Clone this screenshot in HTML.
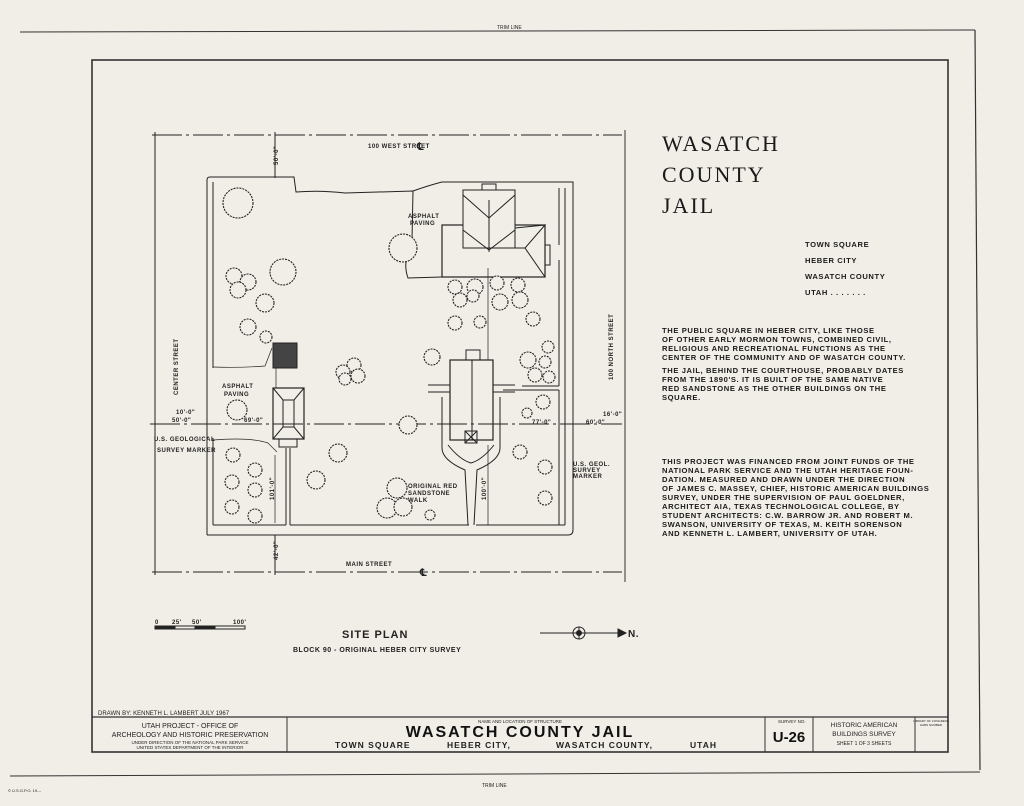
<!DOCTYPE html>
<html><head><meta charset="utf-8"><style>
html,body{margin:0;padding:0;background:#f1eee7;}
svg{display:block;font-family:"Liberation Sans",sans-serif;}
.t{fill:#222;}
.p{font-size:7.6px;fill:#1a1a1a;letter-spacing:0.6px;font-weight:bold;}
</style></head><body>
<svg width="1024" height="806" viewBox="0 0 1024 806">
<rect width="1024" height="806" fill="#f1eee7"/>
<g stroke="#333" fill="none">
<line x1="20" y1="32" x2="975" y2="30" stroke-width="1"/>
<line x1="975" y1="30" x2="980" y2="770" stroke-width="1.2"/>
<line x1="10" y1="776" x2="980" y2="772" stroke-width="1"/>
<rect x="92" y="60" width="856" height="692" stroke-width="1.6"/>
<line x1="92" y1="717" x2="948" y2="717" stroke-width="1.3"/>
<line x1="287" y1="717" x2="287" y2="752"/>
<line x1="765" y1="717" x2="765" y2="752"/>
<line x1="813" y1="717" x2="813" y2="752"/>
<line x1="915" y1="717" x2="915" y2="752"/>
</g>
<text x="497" y="29" class="t" font-size="5">TRIM LINE</text>
<text x="482" y="787" class="t" font-size="5">TRIM LINE</text>
<text x="8" y="792" class="t" font-size="4">© U.S.G.P.O. 19---</text>
<text x="98" y="715" class="t" font-size="6">DRAWN BY: KENNETH L. LAMBERT    JULY 1967</text>
<text x="190" y="728" class="t" font-size="7" text-anchor="middle">UTAH PROJECT  -  OFFICE OF</text>
<text x="190" y="737" class="t" font-size="7" text-anchor="middle">ARCHEOLOGY AND HISTORIC PRESERVATION</text>
<text x="190" y="744" class="t" font-size="4.5" text-anchor="middle">UNDER DIRECTION OF THE NATIONAL PARK SERVICE</text>
<text x="190" y="749" class="t" font-size="4.5" text-anchor="middle">UNITED STATES DEPARTMENT OF THE INTERIOR</text>
<text x="520" y="723" class="t" font-size="4.5" text-anchor="middle">NAME AND LOCATION OF STRUCTURE</text>
<text x="520" y="737" font-size="16" fill="#111" text-anchor="middle" letter-spacing="2" font-weight="bold">WASATCH  COUNTY  JAIL</text>
<text x="335" y="748" class="t" font-size="8.5" letter-spacing="1" font-weight="bold">TOWN SQUARE</text>
<text x="447" y="748" class="t" font-size="8.5" letter-spacing="1" font-weight="bold">HEBER CITY,</text>
<text x="556" y="748" class="t" font-size="8.5" letter-spacing="1" font-weight="bold">WASATCH  COUNTY,</text>
<text x="690" y="748" class="t" font-size="8.5" letter-spacing="1" font-weight="bold">UTAH</text>
<text x="778" y="723" class="t" font-size="4.5">SURVEY NO.</text>
<text x="789" y="742" font-size="15" fill="#111" text-anchor="middle" font-weight="bold">U-26</text>
<text x="864" y="727" class="t" font-size="6.5" text-anchor="middle">HISTORIC AMERICAN</text>
<text x="864" y="736" class="t" font-size="6.5" text-anchor="middle">BUILDINGS SURVEY</text>
<text x="864" y="745" class="t" font-size="5" text-anchor="middle">SHEET 1 OF 3 SHEETS</text>
<text x="931" y="722" class="t" font-size="3" text-anchor="middle">LIBRARY OF CONGRESS</text>
<text x="931" y="726" class="t" font-size="3" text-anchor="middle">HABS NUMBER</text>
<line x1="625" y1="130" x2="625" y2="582" stroke="#333" stroke-width="1"/>
<g font-family="Liberation Serif,serif" font-size="22" fill="#1a1a1a" letter-spacing="2">
<text x="662" y="151">WASATCH</text><text x="662" y="182">COUNTY</text><text x="662" y="213">JAIL</text></g>
<g class="p"><text x="805" y="247">TOWN SQUARE</text><text x="805" y="263">HEBER CITY</text><text x="805" y="279">WASATCH COUNTY</text><text x="805" y="295">UTAH . . . . . . .</text>
<text x="662" y="333">THE PUBLIC SQUARE IN HEBER CITY, LIKE THOSE</text>
<text x="662" y="342">OF OTHER EARLY MORMON TOWNS, COMBINED CIVIL,</text>
<text x="662" y="351">RELIGIOUS AND RECREATIONAL FUNCTIONS AS THE</text>
<text x="662" y="360">CENTER OF THE COMMUNITY AND OF WASATCH COUNTY.</text>
<text x="662" y="373">THE JAIL, BEHIND THE COURTHOUSE, PROBABLY DATES</text>
<text x="662" y="382">FROM THE 1890'S.  IT IS BUILT OF THE SAME NATIVE</text>
<text x="662" y="391">RED SANDSTONE AS THE OTHER BUILDINGS ON THE</text>
<text x="662" y="400">SQUARE.</text>
<text x="662" y="464">THIS PROJECT WAS FINANCED FROM JOINT FUNDS OF THE</text>
<text x="662" y="473">NATIONAL PARK SERVICE AND THE UTAH HERITAGE FOUN-</text>
<text x="662" y="482">DATION. MEASURED AND DRAWN UNDER THE DIRECTION</text>
<text x="662" y="491">OF JAMES C. MASSEY, CHIEF, HISTORIC AMERICAN BUILDINGS</text>
<text x="662" y="500">SURVEY, UNDER THE SUPERVISION OF PAUL GOELDNER,</text>
<text x="662" y="509">ARCHITECT AIA, TEXAS TECHNOLOGICAL COLLEGE, BY</text>
<text x="662" y="518">STUDENT ARCHITECTS: C.W. BARROW JR. AND ROBERT M.</text>
<text x="662" y="527">SWANSON, UNIVERSITY OF TEXAS, M. KEITH SORENSON</text>
<text x="662" y="536">AND KENNETH L. LAMBERT, UNIVERSITY OF UTAH.</text></g>
<g stroke="#222" fill="none" stroke-width="1">
<line x1="152" y1="135" x2="622" y2="135" stroke-dasharray="30,4,3,4"/>
<line x1="152" y1="572" x2="622" y2="572" stroke-dasharray="30,4,3,4"/>
<line x1="155" y1="132" x2="155" y2="575"/>
<line x1="150" y1="424" x2="622" y2="424" stroke-dasharray="30,4,3,4"/>
<line x1="275" y1="132" x2="275" y2="178"/>
<line x1="275" y1="535" x2="275" y2="575"/>
<path d="M207 535 L207 180 Q207 177 210 177 L294 177 L296 192 Q320 190 345 193 L413 191 L412 240 Q402 262 408 278 L442 277"/>
<path d="M413 191 Q430 185 442 182 L573 182 L573 530 Q573 535 568 535 L207 535"/>
<line x1="213" y1="182" x2="213" y2="368"/>
<line x1="213" y1="438" x2="213" y2="525"/>
<line x1="213" y1="525" x2="286" y2="525"/><line x1="290" y1="525" x2="469" y2="525"/><line x1="476" y1="525" x2="565" y2="525"/>
<line x1="565" y1="188" x2="565" y2="525"/><line x1="559" y1="188" x2="559" y2="245"/>
<line x1="559" y1="390" x2="559" y2="525"/><line x1="503" y1="390" x2="559" y2="390"/>
<line x1="522" y1="386" x2="559" y2="386"/><line x1="559" y1="260" x2="559" y2="386"/>
<path d="M213 367 Q240 368 265 366 L272 348" stroke-width="0.7"/>
<path d="M213 440 Q250 437 268 443 L277 452" stroke-width="0.7"/>
<line x1="286" y1="448" x2="286" y2="525"/><line x1="290" y1="448" x2="290" y2="525"/>
<rect x="442" y="225" width="103" height="52" stroke-width="1.2"/>
<rect x="463" y="190" width="52" height="58" fill="#f1eee7"/>
<path d="M463 195 L489 218 L515 195 M463 230 L489 250 L515 230 M489 200 L489 252 M463 195 L463 230 M515 195 L515 230"/>
<path d="M515 228 L545 225 L525 248 L545 277 M525 248 L509 248"/>
<rect x="482" y="184" width="14" height="6"/>
<rect x="545" y="245" width="5" height="20"/>
<rect x="273" y="388" width="31" height="51" stroke-width="1.2"/>
<path d="M273 388 L283 400 L294 400 L304 388 M273 439 L283 427 L294 427 L304 439 M283 400 L283 427 M294 400 L294 427"/>
<rect x="279" y="439" width="18" height="8"/>
<rect x="273" y="343" width="24" height="25" fill="#444"/>
<rect x="450" y="360" width="43" height="80" stroke-width="1.2"/>
<line x1="472" y1="360" x2="472" y2="440"/>
<rect x="466" y="350" width="14" height="10"/>
<rect x="465" y="431" width="12" height="12"/><path d="M465 431 L477 443 M477 431 L465 443"/>
<path d="M428 385 L450 385 M428 392 L450 392 M493 385 L515 385 M493 392 L515 392"/>
<path d="M442 397 L442 448 Q442 460 465 470 L468 525 M500 397 L500 448 Q500 460 477 470 L474 525 M448 445 Q460 460 471 463 Q482 460 494 445"/>
<line x1="488" y1="268" x2="488" y2="360" stroke-width="0.7"/>
<line x1="488" y1="445" x2="488" y2="525" stroke-width="0.7"/>
<line x1="276" y1="368" x2="276" y2="388" stroke-width="0.7"/>
<line x1="275" y1="455" x2="275" y2="523" stroke-width="0.7"/>
</g>
<g fill="#f1eee7" stroke="#222" stroke-width="1.1" stroke-dasharray="2,1">
<circle cx="238" cy="203" r="15"/><circle cx="283" cy="272" r="13"/><circle cx="403" cy="248" r="14"/>
<circle cx="234" cy="276" r="8"/><circle cx="248" cy="282" r="8"/><circle cx="238" cy="290" r="8"/>
<circle cx="265" cy="303" r="9"/><circle cx="248" cy="327" r="8"/><circle cx="266" cy="337" r="6"/>
<circle cx="354" cy="365" r="7"/><circle cx="343" cy="372" r="7"/><circle cx="358" cy="376" r="7"/><circle cx="345" cy="379" r="6"/>
<circle cx="432" cy="357" r="8"/><circle cx="408" cy="425" r="9"/><circle cx="237" cy="410" r="10"/>
<circle cx="338" cy="453" r="9"/><circle cx="316" cy="480" r="9"/>
<circle cx="233" cy="455" r="7"/><circle cx="255" cy="470" r="7"/><circle cx="232" cy="482" r="7"/><circle cx="255" cy="490" r="7"/><circle cx="232" cy="507" r="7"/><circle cx="255" cy="516" r="7"/>
<circle cx="455" cy="287" r="7"/><circle cx="475" cy="287" r="8"/><circle cx="497" cy="283" r="7"/><circle cx="518" cy="285" r="7"/>
<circle cx="460" cy="300" r="7"/><circle cx="473" cy="296" r="6"/><circle cx="500" cy="302" r="8"/><circle cx="520" cy="300" r="8"/>
<circle cx="455" cy="323" r="7"/><circle cx="480" cy="322" r="6"/><circle cx="533" cy="319" r="7"/>
<circle cx="548" cy="347" r="6"/><circle cx="528" cy="360" r="8"/><circle cx="545" cy="362" r="6"/><circle cx="535" cy="375" r="7"/><circle cx="549" cy="377" r="6"/>
<circle cx="543" cy="402" r="7"/><circle cx="527" cy="413" r="5"/><circle cx="520" cy="452" r="7"/><circle cx="545" cy="467" r="7"/><circle cx="545" cy="498" r="7"/>
<circle cx="397" cy="488" r="10"/><circle cx="387" cy="508" r="10"/><circle cx="403" cy="507" r="9"/><circle cx="430" cy="515" r="5"/>
</g>
<g font-size="6" fill="#222" letter-spacing="0.5" font-weight="bold">
<text x="368" y="148">100 WEST STREET</text><text x="346" y="566">MAIN STREET</text>
<text x="417" y="150" font-size="10">℄</text><text x="420" y="576" font-size="10">℄</text>
<text x="408" y="218">ASPHALT</text><text x="410" y="225">PAVING</text>
<text x="222" y="388">ASPHALT</text><text x="224" y="396">PAVING</text>
<text x="154" y="441">U.S. GEOLOGICAL</text><text x="157" y="452">SURVEY MARKER</text>
<text x="573" y="466">U.S. GEOL.</text><text x="573" y="472">SURVEY</text><text x="573" y="478">MARKER</text>
<text x="408" y="488">ORIGINAL RED</text><text x="408" y="495">SANDSTONE</text><text x="408" y="502">WALK</text>
<text x="172" y="422">50'-0"</text><text x="244" y="422">69'-0"</text><text x="532" y="424">77'-0"</text><text x="586" y="424">60'-0"</text>
<text x="176" y="414">10'-0"</text><text x="603" y="416">16'-0"</text>
<text transform="translate(178,395) rotate(-90)">CENTER STREET</text>
<text transform="translate(613,380) rotate(-90)">100 NORTH STREET</text>
<text transform="translate(278,165) rotate(-90)">50'-0"</text>
<text transform="translate(278,560) rotate(-90)">42'-0"</text>
<text transform="translate(274,500) rotate(-90)">101'-0"</text>
<text transform="translate(486,500) rotate(-90)">100'-0"</text>
<text x="342" y="638" font-size="11" font-weight="bold" letter-spacing="1">SITE PLAN</text>
<text x="293" y="652" font-size="7">BLOCK 90 - ORIGINAL HEBER CITY SURVEY</text>
<text x="155" y="624">0</text><text x="172" y="624">25'</text><text x="192" y="624">50'</text><text x="233" y="624">100'</text>
<text x="628" y="637" font-size="10" font-weight="bold">N.</text>
</g>
<g stroke="#222" fill="none">
<rect x="155" y="626" width="90" height="3"/>
<rect x="155" y="626" width="20" height="3" fill="#222"/>
<rect x="195" y="626" width="20" height="3" fill="#222"/>
<line x1="540" y1="633" x2="625" y2="633"/>
<circle cx="579" cy="633" r="6"/><path d="M579 627 L579 639" /><circle cx="579" cy="633" r="2.5" fill="#222"/>
<path d="M618 629 L626 633 L618 637 Z" fill="#222"/>
</g>
</svg>
</body></html>
